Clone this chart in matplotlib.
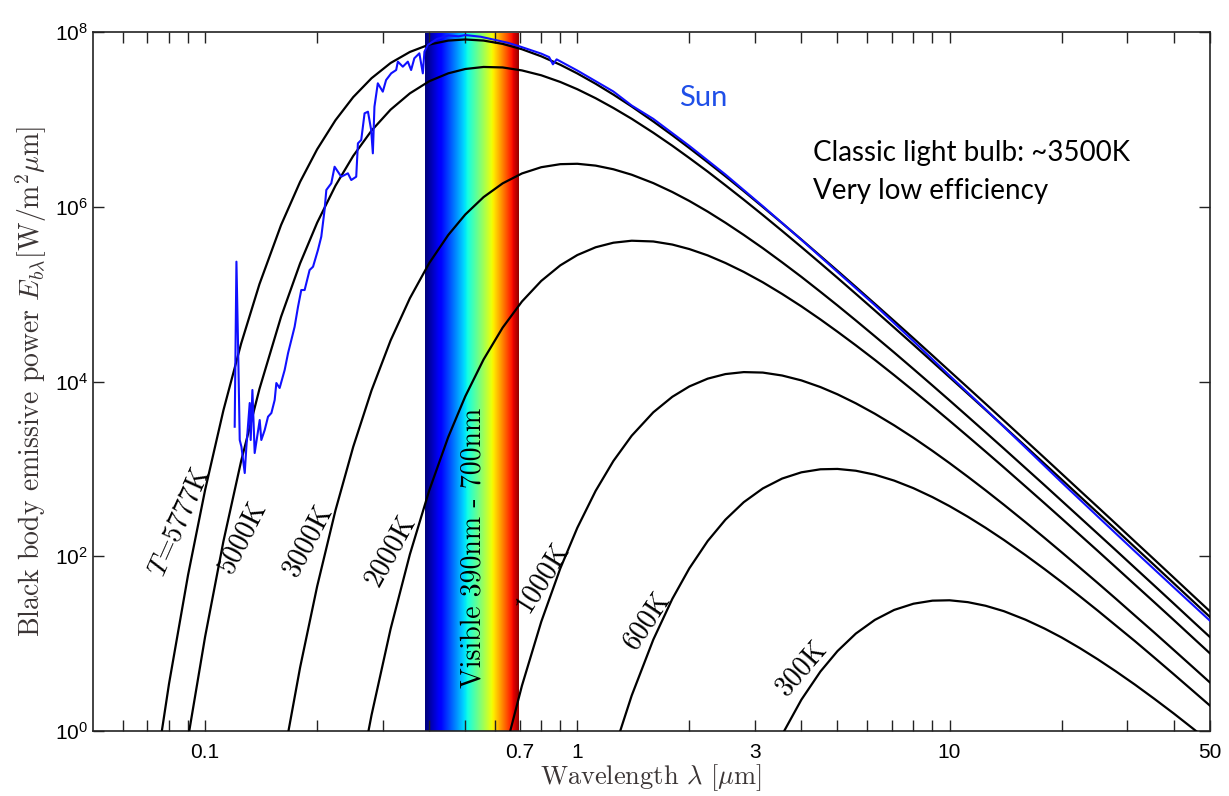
import numpy as np
import matplotlib.pyplot as plt
from matplotlib.ticker import FixedLocator, FixedFormatter, NullFormatter

plt.rcParams['font.family'] = ['Liberation Sans', 'DejaVu Sans']
plt.rcParams['mathtext.fontset'] = 'cm'

# wavelength grid [um]; each curve below holds its values for the last len(curve) points
wavelength = [0.071, 0.08, 0.09, 0.1, 0.112, 0.125, 0.14, 0.16, 0.18, 0.2,
              0.224, 0.25, 0.28, 0.315, 0.355, 0.4, 0.45, 0.5, 0.56, 0.63,
              0.71, 0.8, 0.9, 1, 1.12, 1.25, 1.4, 1.6, 1.8, 2,
              2.24, 2.5, 2.8, 3.15, 3.55, 4, 4.5, 5, 5.6, 6.3,
              7.1, 8, 9, 10, 11.2, 12.5, 14, 16, 18, 20,
              22.4, 25, 28, 31.5, 35.5, 40, 45, 50]

# emissive power E_b(lambda) [W/m^2 um]
e_5777 = [0.121, 3.45, 60.8, 571, 4675, 2.725e4, 1.3075e5, 6.20e5, 1.938e6, 4.57e6,
          9.84e6, 1.81e7, 2.98e7, 4.45e7, 5.96e7, 7.24e7, 8.04e7, 8.28e7, 8.04e7, 7.37e7,
          6.40e7, 5.31e7, 4.25e7, 3.38e7, 2.575e7, 1.935e7, 1.413e7, 9.53e6, 6.62e6, 4.72e6,
          3.25e6, 2.245e6, 1.517e6, 1.0e6, 6.52e5, 4.23e5, 2.74e5, 1.855e5, 1.213e5, 7.77e4,
          4.94e4, 3.13e4, 1.987e4, 1.32e4, 8519, 5560, 3572, 2117, 1334, 881,
          563, 366, 234, 146.6, 91.4, 56.9, 35.6, 23.45]
e_5000 = [0.0273, 0.824, 11.9, 147.5, 1231, 8242, 5.52e4, 2.257e5, 6.59e5,
          1.75e6, 3.84e6, 7.48e6, 1.30e7, 2.00e7, 2.75e7, 3.39e7, 3.80e7, 4.01e7, 3.96e7,
          3.66e7, 3.22e7, 2.70e7, 2.23e7, 1.759e7, 1.36e7, 1.022e7, 7.08e6, 5.02e6, 3.63e6,
          2.54e6, 1.77e6, 1.211e6, 8.08e5, 5.31e5, 3.47e5, 2.264e5, 1.54e5, 1.011e5, 6.51e4,
          4.15e4, 2.64e4, 1.68e4, 1.12e4, 7245, 4736, 3050, 1812, 1141, 755,
          483, 314, 201, 126, 78.7, 49.0, 30.7, 20.2]
e_3000 = [0.342, 5.31, 45.0,
          334, 1785, 7911, 2.95e4, 9.00e4, 2.27e5, 4.77e5, 8.18e5, 1.296e6, 1.86e6,
          2.417e6, 2.85e6, 3.088e6, 3.12e6, 2.973e6, 2.70e6, 2.338e6, 1.875e6, 1.482e6, 1.17e6,
          8.84e5, 6.59e5, 4.78e5, 3.37e5, 2.319e5, 1.58e5, 1.065e5, 7.44e4, 5.01e4, 3.30e4,
          2.15e4, 1.39e4, 9000, 6081, 3968, 2620, 1703, 1020, 649, 431,
          277.5, 181, 116.4, 73.3, 45.9, 28.7, 18.0, 11.9]
e_2000 = [0.122, 1.51, 14.6, 104.9, 564, 2312, 6755, 1.79e4, 4.14e4,
          8.25e4, 1.42e5, 2.141e5, 2.81e5, 3.45e5, 3.89e5, 4.10e5, 4.02e5, 3.706e5, 3.29e5,
          2.785e5, 2.28e5, 1.802e5, 1.37e5, 1.007e5, 7.26e4, 5.14e4, 3.72e4, 2.60e4, 1.77e4,
          1.183e4, 7832, 5177, 3551, 2354, 1575, 1036, 628, 403, 270,
          175, 115, 74.2, 47.0, 29.6, 18.6, 11.7, 7.74]
e_1000 = [0.0472, 0.455,
          3.28, 17.7, 72.2, 211, 559, 1229, 2395, 4438, 6687, 8787,
          1.0786e4, 1.217e4, 1.282e4, 1.266e4, 1.172e4, 1.03e4, 8639, 7137, 5631, 4277,
          3149, 2267, 1605, 1163, 811.5, 567, 387.6, 244.7, 161.7, 110.9,
          73.6, 49.3, 32.4, 20.8, 13.3, 8.44, 5.38, 3.59]
e_600 = [0.107, 0.571, 2.53, 11.05, 32.4, 72.5,
         148.9, 261.6, 414.9, 596, 773.5, 912, 988, 997, 951, 857,
         733, 600, 474, 374, 282.6, 211, 153.1, 102.6, 71.0, 50.5,
         34.6, 23.8, 16.0, 10.6, 6.88, 4.45, 2.88, 1.95]
e_300 = [0.295, 0.900, 2.27, 4.77, 8.17, 12.96, 18.6,
         24.2, 28.5, 30.9, 31.2, 29.7, 27.0, 23.4, 18.7, 14.8, 11.7,
         8.83, 6.59, 4.78, 3.37, 2.32, 1.58, 1.065, 0.744]

curves = [e_5777, e_5000, e_3000, e_2000, e_1000, e_600, e_300]
curve_labels = [r'$T$=5777K', '5000K', '3000K', '2000K', '1000K', '600K', '300K']

# measured solar spectrum
sun_wl = [0.1201, 0.1214, 0.1227, 0.1239, 0.1252, 0.1278, 0.1291, 0.1318, 0.1326, 0.1340,
          0.1359, 0.1402, 0.1416, 0.1446, 0.1476, 0.1507, 0.1538, 0.1554, 0.1586, 0.1636,
          0.1671, 0.1705, 0.1740, 0.1777, 0.1813, 0.1851, 0.1909, 0.1950, 0.2010, 0.2052,
          0.2094, 0.2117, 0.2183, 0.2228, 0.2322, 0.2419, 0.2470, 0.2547, 0.2574, 0.2627,
          0.2682, 0.2739, 0.2794, 0.2823, 0.2851, 0.2911, 0.3002, 0.3064, 0.3162, 0.3261,
          0.3295, 0.3398, 0.3505, 0.3577, 0.3649, 0.3764, 0.3846, 0.3884, 0.3965,
          0.42, 0.45, 0.48, 0.5, 0.55, 0.6, 0.65, 0.7, 0.8, 0.84,
          0.86, 0.88, 1.0, 1.25, 1.4, 1.6, 2.0, 2.5, 3.15, 4,
          5, 6.3, 8, 10, 12.5, 16, 20, 25, 31.5, 40, 50]
sun_e = [3035, 2.36e5, 2.30e4, 2138, 1791, 895, 1791, 5675, 2138, 7998,
         1517, 3622, 2138, 2782, 3954, 4357, 6138, 9612, 8433, 1.355e4,
         2.12e4, 2.99e4, 4.24e4, 7.19e4, 1.117e5, 1.117e5, 1.893e5, 2.066e5, 3.21e5, 4.56e5,
         9.21e5, 1.563e6, 1.864e6, 2.885e6, 2.218e6, 2.427e6, 2.033e6, 2.218e6, 5.35e6, 5.84e6,
         1.181e7, 1.233e7, 7.6e6, 4.11e6, 1.406e7, 2.606e7, 2.09e7, 2.84e7, 3.39e7, 3.70e7,
         4.61e7, 4.04e7, 4.61e7, 3.70e7, 5.04e7, 5.75e7, 3.39e7, 6.0e7, 7.16e7,
         8.4e7, 9.2e7, 9.0e7, 9.3e7, 8.9e7, 8.2e7, 7.6e7, 6.9e7, 5.7e7, 5.2e7,
         4.3e7, 4.9e7, 3.65e7, 2.1e7, 1.45e7, 1.02e7, 5.0e6, 2.35e6, 1.02e6, 4.2e5,
         1.8e5, 7.5e4, 2.9e4, 1.17e4, 4.8e3, 1.75e3, 700, 285, 113, 44, 18.3]

visible_band = (0.39, 0.7)

x_ticks = [0.1, 0.7, 1, 3, 10, 50]
x_tick_labels = ['0.1', '0.7', '1', '3', '10', '50']
x_minor = [0.06, 0.07, 0.08, 0.09, 0.2, 0.3, 0.4, 0.5, 0.6, 0.8, 0.9,
           2, 4, 5, 6, 7, 8, 9, 20, 30, 40]
y_ticks = [1e0, 1e2, 1e4, 1e6, 1e8]
y_tick_labels = [r'$\mathdefault{10^{0}}$', r'$\mathdefault{10^{2}}$', r'$\mathdefault{10^{4}}$',
                 r'$\mathdefault{10^{6}}$', r'$\mathdefault{10^{8}}$']

# label anchors (wavelength, power, rotation)
label_pos = [(0.0854, 246, 66), (0.126, 165, 63), (0.1894, 153, 62), (0.316, 117, 61),
             (0.808, 57.7, 58), (1.545, 18.5, 56), (4.0, 5.2, 49)]

fig = plt.figure(figsize=(12.29, 7.96), dpi=100)
ax = fig.add_axes([0.0757, 0.0820, 0.9086, 0.8774])
ax.set_xscale('log')
ax.set_yscale('log')

# visible spectrum band
gradient = np.linspace(0, 1, 256)[None, :]
ax.imshow(gradient, cmap='jet', aspect='auto', interpolation='bilinear',
          extent=[visible_band[0], visible_band[1], 1, 1e8], zorder=1)

for e in curves:
    ax.plot(wavelength[-len(e):], e, color='black', lw=1.6, zorder=3)

ax.plot(sun_wl, sun_e, color='#1010ff', lw=1.5, zorder=4)

cm_font = dict(fontfamily='cmr10', math_fontfamily='cm', fontsize=20)
for lab, (lx, ly, rot) in zip(curve_labels, label_pos):
    ax.text(lx, ly, lab, rotation=rot, ha='center', va='center', zorder=5, **cm_font)

ax.text(0.524, 124, 'Visible 390nm - 700nm', rotation=90, ha='center', va='center',
        zorder=5, **cm_font)

ax.text(1.872, 1.77e7, 'Sun', color='#1f4fe8', fontsize=21, fontfamily='Lato',
        ha='left', va='center', zorder=5)
ax.text(4.31, 4.14e6, 'Classic light bulb: ~3500K', fontsize=20, fontfamily='Lato',
        ha='left', va='center', zorder=5)
ax.text(4.31, 1.52e6, 'Very low efficiency', fontsize=20, fontfamily='Lato',
        ha='left', va='center', zorder=5)

ax.set_xlim(0.05, 50)
ax.set_ylim(1, 1e8)

ax.xaxis.set_major_locator(FixedLocator(x_ticks))
ax.xaxis.set_major_formatter(FixedFormatter(x_tick_labels))
ax.xaxis.set_minor_locator(FixedLocator(x_minor))
ax.xaxis.set_minor_formatter(NullFormatter())
ax.yaxis.set_major_locator(FixedLocator(y_ticks))
ax.yaxis.set_major_formatter(FixedFormatter(y_tick_labels))
ax.yaxis.set_minor_locator(FixedLocator([]))

ax.tick_params(which='both', direction='in', top=True, right=True, length=8,
               width=1.0, labelsize=15, color='#222222')
ax.tick_params(axis='x', pad=9)
for s in ax.spines.values():
    s.set_linewidth(1.2)
    s.set_color('#222222')

ax.set_xlabel(r'Wavelength $\lambda$ [$\mu$m]', color='#3b3535', labelpad=0,
              fontfamily='cmr10', math_fontfamily='cm', fontsize=19)
ax.set_ylabel(r'Black body emissive power $E_{b\lambda}$[W/m$^2\mu$m]', color='#3b3535',
              labelpad=4, **cm_font)

fig.savefig('out.png', dpi=100)
